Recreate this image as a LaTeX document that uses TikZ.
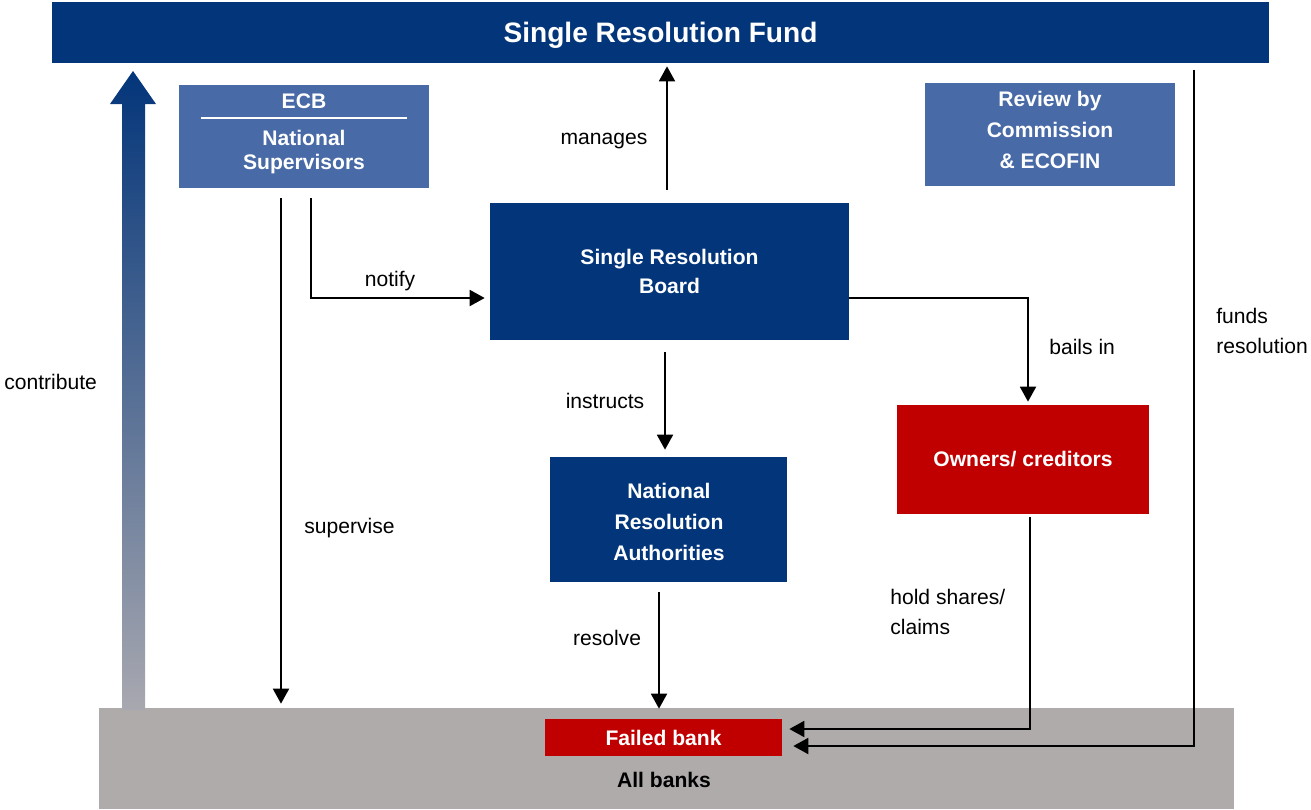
\documentclass[tikz,border=0pt]{standalone}
\usepackage{fontspec}
\setmainfont{Liberation Sans}
\usetikzlibrary{arrows.meta}

\definecolor{srfblue}{RGB}{3,53,122}
\definecolor{paleblue}{RGB}{72,106,166}
\definecolor{bankred}{RGB}{192,0,0}
\definecolor{bankgray}{RGB}{175,171,170}
\definecolor{fadegray}{RGB}{168,168,176}

\tikzset{
  box/.style={rectangle, fill=srfblue, text=white, inner sep=0pt, align=center,
    font=\fontsize{12}{17}\selectfont\bfseries},
  palebox/.style={box, fill=paleblue},
  redbox/.style={box, fill=bankred},
  flow/.style={line width=1.1pt, -{Triangle[length=0.3cm,width=0.32cm]}},
  lbl/.style={inner sep=0pt, align=left, font=\fontsize{12}{17}\selectfont}
}

\begin{document}
\begin{tikzpicture}[x=0.02cm, y=-0.02cm]
    \useasboundingbox (0,0) rectangle (1311,809);

    % boxes
    \node[box, minimum width=24.34cm, minimum height=1.22cm, text depth=0pt, font=\fontsize{16}{19}\selectfont\bfseries] (srf) at (660.5,32.5) {Single Resolution Fund};
    \node[palebox, minimum width=5cm, minimum height=2.06cm] (ecb) at (304,136.5) {};
    \node[box, fill=none] (ecbname) at (304,101) {ECB};
    \draw[white, line width=0.8pt] (201,118) -- (407,118);
    \node[box, fill=none, font=\fontsize{12}{14}\selectfont\bfseries] (natsup) at (304,152) {National\\Supervisors};
    \node[palebox, minimum width=5cm, minimum height=2.06cm] (review) at (1050,134.5) {};
    \node[box, fill=none, font=\fontsize{12}{17.5}\selectfont\bfseries] (reviewtext) at (1050,130) {Review by\\Commission\\\& ECOFIN};
    \node[box, minimum width=7.18cm, minimum height=2.74cm] (srb) at (669.5,271.5) {Single Resolution\\Board};
    \node[box, minimum width=4.74cm, minimum height=2.5cm] (nra) at (668.5,519.5) {};
    \node[box, fill=none, font=\fontsize{12}{17.5}\selectfont\bfseries] (nratext) at (669,522) {National\\Resolution\\Authorities};
    \node[redbox, minimum width=5.04cm, minimum height=2.18cm] (owners) at (1023,459.5) {Owners/ creditors};
    \node[rectangle, fill=bankgray, minimum width=22.7cm, minimum height=2.02cm] (banks) at (666.5,758.5) {};
    \node[redbox, minimum width=4.74cm, minimum height=0.74cm] (failed) at (663.5,737.5) {Failed bank};
    \node[box, fill=none, text=black] (allbanks) at (664,780) {All banks};

    % contribute arrow
    \shade[top color=srfblue, bottom color=fadegray]
      (122,710) -- (122,104) -- (110,104) -- (133,71) -- (156,104) -- (145,104) -- (145,710) -- cycle;

    % free ends and line positions
    \coordinate (supstart) at (281,198);
    \coordinate (notstart) at (311,198);
    \coordinate (bailstart) at (849,298);
    \coordinate (holdstart) at (1030,517);
    \coordinate (fundstart) at (1194,70);
    \coordinate (manx) at (667,0);
    \coordinate (bailx) at (1028,0);
    \coordinate (instx) at (665,0);
    \coordinate (resx) at (659,0);

    % connectors
    \draw[flow, shorten >=0.08cm] (supstart) -- (supstart |- banks.north);
    \draw[flow, shorten >=0.1cm] (notstart) |- (srb.west |- 0,298);
    \draw[flow, shorten <=0.26cm, shorten >=0.06cm] (srb.north -| manx) -- (srf.south -| manx);
    \draw[flow, shorten >=0.06cm] (bailstart) -| (owners.north -| bailx);
    \draw[flow, shorten <=0.24cm, shorten >=0.14cm] (srb.south -| instx) -- (nra.north -| instx);
    \draw[flow, shorten <=0.2cm, shorten >=0.2cm] (nra.south -| resx) -- (failed.north -| resx);
    \draw[flow, shorten >=0.14cm] (holdstart) |- (failed.east |- 0,729);
    \draw[flow, shorten >=0.22cm] (fundstart) |- (failed.east |- 0,746);

    % labels
    \node[lbl, anchor=west] (contribute) at (4,382) {contribute};
    \node[lbl, anchor=west] (supervise) at (304,528) {supervise};
    \node[lbl] (notify) at (390,281) {notify};
    \node[lbl] (manages) at (604,141) {manages};
    \node[lbl, anchor=west] (bailsin) at (1049,347) {bails in};
    \node[lbl] (instructs) at (605,401) {instructs};
    \node[lbl] (resolve) at (607,638) {resolve};
    \node[lbl, anchor=west] (hold) at (890,612) {hold shares/\\claims};
    \node[lbl, anchor=west] (funds) at (1216,331) {funds\\resolution};

\end{tikzpicture}
\end{document}
